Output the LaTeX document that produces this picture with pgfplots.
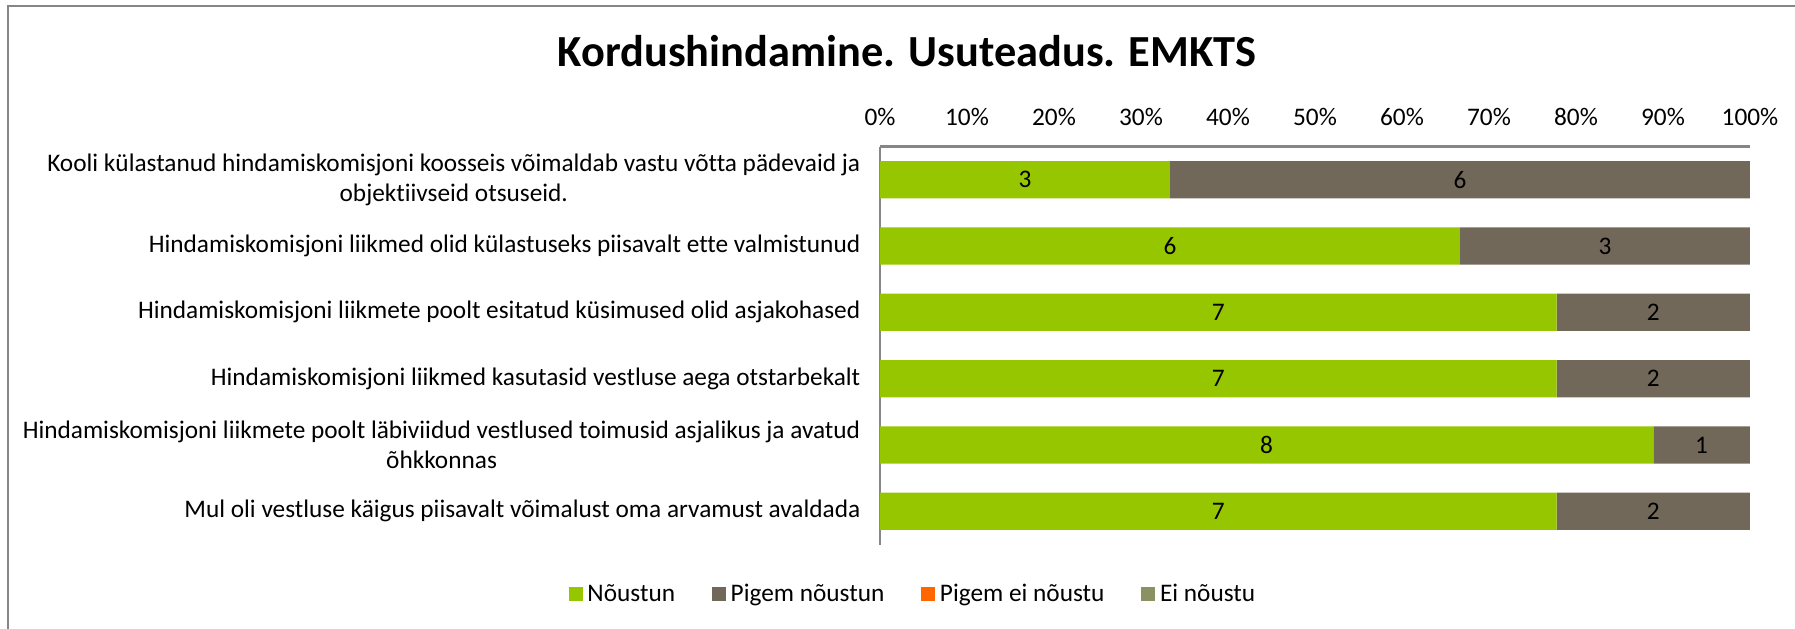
\documentclass[border=0pt]{standalone}
\usepackage{pgfplots}
\pgfplotsset{compat=1.18}
\usepackage{pgfplotstable}
\usepackage{fontspec}
\setmainfont{Carlito}[Ligatures=NoCommon]
\definecolor{cgreen}{RGB}{150,198,0}
\definecolor{cbrown}{RGB}{114,104,90}
\definecolor{corange}{RGB}{255,102,0}
\definecolor{colive}{RGB}{140,145,99}
\definecolor{cframe}{RGB}{134,134,134}

\pgfplotstableread{
cat v
5 3
4 6
3 7
2 7
1 8
0 7
}\nous
\pgfplotstableread{
cat v
5 6
4 3
3 2
2 2
1 1
0 2
}\pigem
\pgfplotstableread{
cat v
5 0
4 0
3 0
2 0
1 0
0 0
}\pigemei
\pgfplotstableread{
cat v
5 0
4 0
3 0
2 0
1 0
0 0
}\einous

\begin{document}
\begin{tikzpicture}
\path[use as bounding box] (0,0) rectangle (897.5pt,-314pt);
\draw[cframe, line width=1pt] (4pt,-330pt) -- (4pt,-3pt) -- (910pt,-3pt);
\node[anchor=base, font=\fontsize{22.2}{26}\selectfont\bfseries] at (453.5pt,-33pt) {Kordushindamine. Usuteadus. EMKTS};
\begin{axis}[
  at={(440pt,-73.25pt)}, anchor=north west,
  scale only axis, width=435pt, height=199pt,
  xbar stacked, bar width=18.65pt,
  xmin=0, xmax=9, ymin=-0.5, ymax=5.5,
  axis x line*=top, axis y line*=left,
  axis line style={cframe, line width=1.3pt, -},
  xtick={0,0.9,1.8,2.7,3.6,4.5,5.4,6.3,7.2,8.1,9},
  xticklabels={0\%,10\%,20\%,30\%,40\%,50\%,60\%,70\%,80\%,90\%,100\%},
  ytick={0,1,2,3,4,5},
  yticklabels={
    {Mul oli vestluse käigus piisavalt võimalust oma arvamust avaldada},
    {Hindamiskomisjoni liikmete poolt läbiviidud vestlused toimusid asjalikus ja avatud\\õhkkonnas},
    {Hindamiskomisjoni liikmed kasutasid vestluse aega otstarbekalt},
    {Hindamiskomisjoni liikmete poolt esitatud küsimused olid asjakohased},
    {Hindamiskomisjoni liikmed olid külastuseks piisavalt ette valmistunud},
    {Kooli külastanud hindamiskomisjoni koosseis võimaldab vastu võtta pädevaid ja\\objektiivseid otsuseid.}},
  major tick length=0pt,
  tick style={draw=none},
  xticklabel style={font=\fontsize{12.65}{15}\selectfont, yshift=7pt},
  yticklabel style={font=\fontsize{12.65}{15}\selectfont, align=center, xshift=-6.3pt},
  point meta=explicit symbolic,
  nodes near coords={\pgfplotspointmeta},
  nodes near coords align=center,
  every node near coord/.append style={font=\fontsize{12.65}{15}\selectfont, text=black, anchor=center},
  legend columns=4,
  legend style={at={(0.0395,-0.1256)}, anchor=center, draw=none, fill=none,
    font=\fontsize{12.65}{15}\selectfont,
    /tikz/every even column/.append style={column sep=16pt},
    nodes={inner xsep=2.4pt, inner ysep=1pt}},
  legend image code/.code={\fill[#1] (0pt,-3.5pt) rectangle (7pt,3.5pt);},
]
\addplot[fill=cgreen, draw=none] table[x=v, y=cat, meta=v] {\nous};
\addplot[fill=cbrown, draw=none] table[x=v, y=cat, meta=v] {\pigem};
\addplot[fill=corange, draw=none, nodes near coords=] table[x=v, y=cat, meta=v] {\pigemei};
\addplot[fill=colive, draw=none, nodes near coords=] table[x=v, y=cat, meta=v] {\einous};
\legend{Nõustun, Pigem nõustun, Pigem ei nõustu, Ei nõustu}
\end{axis}
\end{tikzpicture}
\end{document}
